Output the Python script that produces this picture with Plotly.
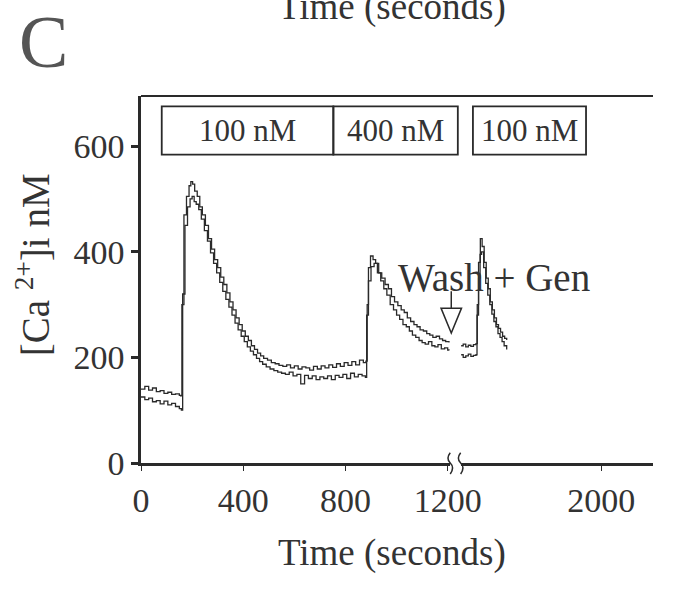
import plotly.graph_objects as go

# ---------------- data ----------------
# segment 1 (before the axis break), trace A (upper) and trace B (lower)
t1_a = [0, 15, 30, 45, 60, 75, 90, 105, 120, 135, 150, 155, 160, 168, 178, 188, 195, 202, 210, 220,
        230, 240, 252, 264, 276, 288, 300, 312, 324, 336, 348, 360, 372, 384, 396, 408, 420, 432, 444,
        456, 468, 480, 495, 510, 525, 540, 555, 570, 585, 600, 615, 630, 645, 660, 675, 690, 705, 720,
        735, 750, 765, 780, 795, 810, 825, 840, 855, 870, 880, 885, 890, 898, 908, 918, 930, 942, 955,
        968, 980, 992, 1005, 1018, 1030, 1042, 1055, 1068, 1080, 1092, 1105, 1118, 1130, 1142, 1155,
        1168, 1180, 1192, 1205]
ca1_a = [140, 145, 138, 142, 135, 137, 132, 134, 130, 131, 128, 127, 300, 470, 505, 525, 533, 528, 515, 505,
         485, 470, 450, 425, 405, 385, 370, 352, 338, 322, 305, 290, 275, 262, 250, 240, 232, 222, 215,
         208, 203, 198, 195, 190, 188, 185, 183, 186, 180, 184, 178, 182, 180, 176, 183, 178, 184, 180,
         186, 181, 188, 183, 190, 185, 192, 186, 195, 190, 193, 300, 370, 392, 385, 378, 360, 350, 338,
         330, 315, 305, 298, 290, 285, 275, 268, 262, 258, 252, 250, 245, 242, 238, 240,
         235, 232, 230, 228]

t1_b = [0, 15, 30, 45, 60, 75, 90, 105, 120, 135, 150, 158, 163, 172, 182, 192, 200, 208, 216, 226,
        236, 248, 260, 272, 284, 296, 308, 320, 332, 344, 356, 368, 380, 392, 404, 416, 428, 440, 452,
        464, 476, 490, 505, 520, 535, 550, 565, 580, 595, 610, 625, 640, 655, 670, 685, 700, 715, 730,
        745, 760, 775, 790, 805, 820, 835, 850, 865, 878, 883, 890, 900, 912, 925, 938, 950, 962, 975,
        988, 1000, 1012, 1025, 1038, 1050, 1062, 1075, 1088, 1100, 1112, 1125, 1138, 1150, 1162, 1175,
        1188, 1200, 1205]
ca1_b = [125, 120, 123, 116, 118, 112, 117, 110, 113, 107, 103, 100, 320, 450, 485, 500, 505, 495, 490, 480,
         462, 440, 420, 398, 378, 360, 342, 325, 310, 295, 280, 265, 252, 240, 230, 220, 212, 205, 198,
         192, 187, 182, 178, 175, 172, 170, 168, 172, 165, 168, 150, 166, 160, 165, 158, 163, 160, 165,
         158, 166, 162, 168, 160, 170, 163, 168, 165, 162, 280, 345, 372, 378, 360, 345, 330, 318, 300,
         290, 280, 272, 262, 258, 250, 242, 238, 232, 228, 225, 230, 222, 220, 224, 216,
         218, 214, 213]

# segment 2 (after the axis break)
t2_a = [1452, 1460, 1470, 1480, 1490, 1500, 1510, 1515, 1520, 1527, 1534, 1542, 1550, 1558, 1566,
        1574, 1582, 1590, 1598, 1606, 1614, 1622, 1630]
ca2_a = [222, 225, 220, 223, 221, 224, 226, 300, 380, 425, 410, 380, 350, 330, 305,
         290, 275, 262, 255, 248, 240, 236, 233]
t2_b = [1452, 1460, 1470, 1480, 1490, 1500, 1510, 1514, 1520, 1526, 1532, 1540, 1548, 1556, 1564,
        1572, 1580, 1588, 1596, 1604, 1612, 1620, 1630]
ca2_b = [205, 200, 203, 206, 202, 204, 205, 280, 350, 395, 400, 370, 340, 318, 300,
         282, 268, 258, 245, 238, 230, 222, 215]

x1_ticks = [0, 400, 800, 1200]
x2_ticks = [2000]
y_ticks = [0, 200, 400, 600]
box_labels = ["100 nM", "400 nM", "100 nM"]

# ---------------- figure ----------------
FONT = "Liberation Serif"
INK = "#2a2a2a"
TXT = "#333"
fig = go.Figure()
line_style = dict(color=INK, width=1.3, shape="hv")
for xs, ys in [(t1_a, ca1_a), (t1_b, ca1_b)]:
    fig.add_trace(go.Scatter(x=xs, y=ys, mode="lines", line=line_style, xaxis="x", yaxis="y",
                             showlegend=False, hoverinfo="skip"))
for xs, ys in [(t2_a, ca2_a), (t2_b, ca2_b)]:
    fig.add_trace(go.Scatter(x=xs, y=ys, mode="lines", line=line_style, xaxis="x2", yaxis="y",
                             showlegend=False, hoverinfo="skip"))

tickfont = dict(family=FONT, size=34, color=TXT)
fig.update_layout(
    width=684, height=589,
    margin=dict(l=141, r=0, t=96, b=126),
    paper_bgcolor="white", plot_bgcolor="white",
    xaxis=dict(domain=[0, 0.604], range=[0, 1210], tickvals=x1_ticks, showgrid=False, zeroline=False,
               showline=True, linecolor=INK, linewidth=3, ticks="outside", ticklen=5, tickwidth=1.2,
               tickcolor=INK, tickfont=tickfont, anchor="y"),
    xaxis2=dict(domain=[0.6243, 1], range=[1450, 2202], tickvals=x2_ticks, showgrid=False, zeroline=False,
                showline=True, linecolor=INK, linewidth=3, ticks="outside", ticklen=5, tickwidth=1.2,
                tickcolor=INK, tickfont=tickfont, anchor="y"),
    yaxis=dict(domain=[0, 1], range=[0, 695], tickvals=y_ticks, showgrid=False, zeroline=False,
               showline=True, linecolor=INK, linewidth=2.5, ticks="outside", ticklen=7, tickwidth=2.5,
               tickcolor=INK, tickfont=tickfont, anchor="x"),
)

shapes = []
# top frame line
shapes.append(dict(type="line", xref="paper", yref="paper", x0=0, x1=1, y0=1, y1=1,
                   line=dict(color=INK, width=2)))
# treatment boxes
box_edges = [(0.0405, 0.3757), (0.3757, 0.6188), (0.6483, 0.8692)]
for (bx0, bx1) in box_edges:
    shapes.append(dict(type="rect", xref="paper", yref="paper", x0=bx0, x1=bx1, y0=0.84, y1=0.972,
                       line=dict(color=INK, width=1.8), fillcolor="rgba(0,0,0,0)"))
# wash arrow
ax = 0.606
shapes.append(dict(type="line", xref="paper", yref="paper", x0=ax, x1=ax, y0=0.468, y1=0.422,
                   line=dict(color=INK, width=1.5)))
shapes.append(dict(type="path", xref="paper", yref="paper",
                   path=f"M {ax-0.02},0.422 L {ax+0.02},0.422 L {ax},0.354 Z",
                   line=dict(color=INK, width=1.5), fillcolor="white"))
# axis break marks
for bx in (0.604, 0.6243):
    shapes.append(dict(type="path", xref="paper", yref="paper",
                       path=f"M {bx},0.028 Q {bx-0.009},0.012 {bx},0 Q {bx+0.009},-0.012 {bx},-0.03",
                       line=dict(color=INK, width=1.5)))
fig.update_layout(shapes=shapes)

def note(text, x, y, size, color=TXT, angle=0):
    return dict(text=text, xref="paper", yref="paper", x=x, y=y, xanchor="center", yanchor="middle",
                showarrow=False, textangle=angle, font=dict(family=FONT, size=size, color=color))

ann = []
for (bx0, bx1), lab in zip(box_edges, box_labels):
    ann.append(note(lab, (bx0 + bx1) / 2, 0.906, 31))
ann.append(note("Wash + Gen", 0.69, 0.505, 39))
ann.append(note("Time (seconds)", 0.49, -0.245, 37))
ann.append(note("Time (seconds)", 0.49, 1.242, 37))
ann.append(note("[Ca <sup>2+</sup>]i nM", -0.212, 0.54, 39, angle=-90))
ann.append(note("C", -0.1897, 1.147, 74, color="#555"))
fig.update_layout(annotations=ann)

fig.write_html("out.html")
